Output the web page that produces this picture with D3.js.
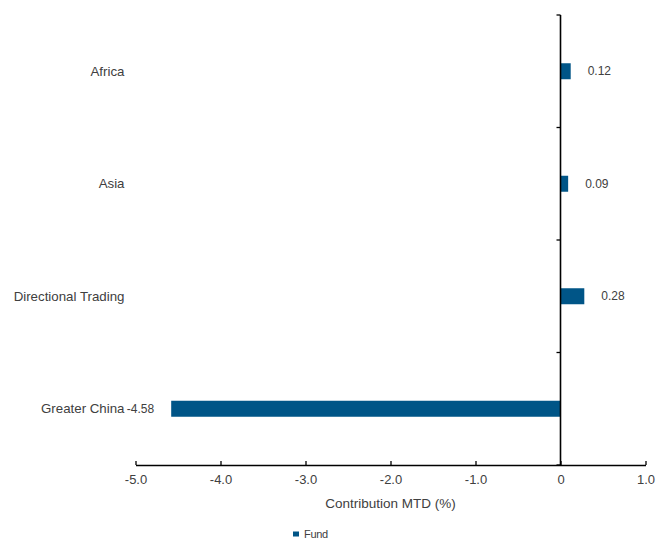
<!DOCTYPE html>
<html>
<head>
<meta charset="utf-8">
<script src="https://cdn.jsdelivr.net/npm/d3@7"></script>
<style>
  body { margin: 0; background: #fff; }
  svg text { font-family: "Liberation Sans", Arial, sans-serif; fill: #404040; }
</style>
</head>
<body>
<svg id="chart" width="659" height="540"></svg>
<script>
const categories = ["Africa", "Asia", "Directional Trading", "Greater China"];
const fundValues = [0.12, 0.09, 0.28, -4.58];
const xTickValues = [-5, -4, -3, -2, -1, 0, 1];
const xTickLabels = ["-5.0", "-4.0", "-3.0", "-2.0", "-1.0", "0", "1.0"];
const seriesName = "Fund";
const axisTitle = "Contribution MTD (%)";

const svg = d3.select("#chart");
const plotLeft = 135.5, plotRight = 645.5, plotTop = 15, plotBottom = 465;
const barColor = "#005587";

const x = d3.scaleLinear().domain([-5, 1]).range([plotLeft, plotRight]);
const y = d3.scaleBand().domain(categories).range([plotTop, plotBottom]);

// X axis
const xAxis = svg.append("g").attr("transform", `translate(0,${plotBottom})`)
  .call(d3.axisBottom(x).tickValues(xTickValues).tickSizeInner(-4).tickSizeOuter(0)
    .tickFormat((d, i) => xTickLabels[i]));
xAxis.select(".domain").attr("stroke", "#000").attr("stroke-width", 1.6);
xAxis.selectAll(".tick line").attr("stroke", "#000").attr("stroke-width", 1.3);
xAxis.selectAll(".tick text").attr("y", 10).attr("dy", "0.71em")
  .style("font-size", "13px").style("fill", "#404040");

// bars
svg.append("g").selectAll("rect").data(categories).join("rect")
  .attr("x", (d, i) => x(Math.min(0, fundValues[i])))
  .attr("width", (d, i) => Math.abs(x(fundValues[i]) - x(0)))
  .attr("y", d => y(d) + y.bandwidth() / 2 - 8)
  .attr("height", 16)
  .attr("fill", barColor);

// Y axis at zero
const yAxis = svg.append("g").attr("transform", `translate(${x(0)},0)`);
yAxis.append("line").attr("x1", 0).attr("x2", 0).attr("y1", plotTop).attr("y2", plotBottom)
  .attr("stroke", "#000").attr("stroke-width", 1.6);
const yTicks = d3.range(categories.length + 1).map(i => plotTop + i * y.step());
yAxis.selectAll("line.tk").data(yTicks).join("line").attr("class", "tk")
  .attr("x1", -4).attr("x2", 0).attr("y1", d => d).attr("y2", d => d)
  .attr("stroke", "#000").attr("stroke-width", 1.3);

// category labels
svg.append("g").selectAll("text").data(categories).join("text")
  .attr("x", plotLeft - 11)
  .attr("y", d => y(d) + y.bandwidth() / 2)
  .attr("dy", "0.35em")
  .attr("text-anchor", "end")
  .style("font-size", "13.3px")
  .text(d => d);

// value labels
svg.append("g").selectAll("text").data(categories).join("text")
  .attr("x", (d, i) => fundValues[i] >= 0 ? x(fundValues[i]) + 17 : x(fundValues[i]) - 17)
  .attr("y", d => y(d) + y.bandwidth() / 2)
  .attr("dy", "0.35em")
  .attr("text-anchor", (d, i) => fundValues[i] >= 0 ? "start" : "end")
  .style("font-size", "12px")
  .text((d, i) => fundValues[i].toFixed(2));

// axis title
svg.append("text").attr("x", (plotLeft + plotRight) / 2).attr("y", 503).attr("dy", "0.35em")
  .attr("text-anchor", "middle").style("font-size", "13.5px").text(axisTitle);

// legend
const lg = svg.append("g").attr("transform", "translate(293,534)");
lg.append("rect").attr("x", 0).attr("y", -2.5).attr("width", 6).attr("height", 5).attr("fill", barColor);
lg.append("text").attr("x", 11).attr("y", 0).attr("dy", "0.35em")
  .style("font-size", "11px").style("letter-spacing", "-0.3px").text(seriesName);
</script>
</body>
</html>
